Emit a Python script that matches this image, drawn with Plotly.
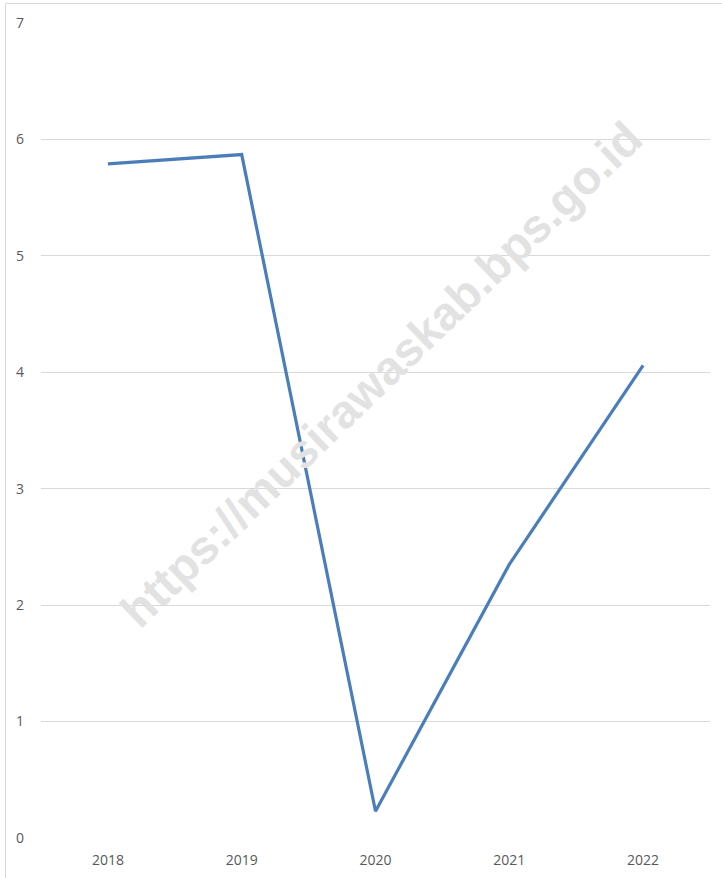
import plotly.graph_objects as go

years = ["2018", "2019", "2020", "2021", "2022"]
values = [5.79, 5.87, 0.23, 2.35, 4.06]
y_ticks = [0, 1, 2, 3, 4, 5, 6, 7]

W, H = 722, 878
ml, mr, mt, mb = 41, 12, 23, 40
pw, ph = W - ml - mr, H - mt - mb

fig = go.Figure()
fig.add_trace(go.Scatter(
    x=years, y=values, mode="lines",
    line=dict(color="#4a7ebb", width=3.2),
    showlegend=False, hoverinfo="skip",
))

fig.update_layout(
    width=W, height=H,
    margin=dict(l=ml, r=mr, t=mt, b=mb, autoexpand=False),
    paper_bgcolor="white", plot_bgcolor="white",
    font=dict(family="Open Sans, Liberation Sans, sans-serif", size=14, color="#595959"),
    xaxis=dict(type="category", range=[-0.5, 4.5], showgrid=False, showline=False,
               zeroline=False, ticks="", ticklabelstandoff=12, automargin=False),
    yaxis=dict(range=[0, 7], tickvals=y_ticks, showgrid=True, gridcolor="#d9d9d9",
               gridwidth=1, zeroline=False, showline=False, ticks="", ticklabelstandoff=16,
               automargin=False),
)

# outer chart border
fig.add_shape(type="rect", xref="paper", yref="paper",
              x0=(5.5 - ml) / pw, x1=(W + 5 - ml) / pw,
              y0=-(mb + 5) / ph,
              y1=(H - 3.5 - mb) / ph,
              line=dict(color="#d9d9d9", width=1), fillcolor="rgba(0,0,0,0)")

fig.add_annotation(
    text="https://musirawaskab.bps.go.id",
    xref="paper", yref="paper",
    x=(382 - ml) / pw, y=(H - mb - 374) / ph,
    showarrow=False, textangle=-44,
    font=dict(family="Liberation Sans, Arial, sans-serif", size=47, color="#e2e2e2", weight="bold"),
)

fig.write_html("out.html", config={"displayModeBar": False},
               post_script="document.body.style.margin='0';")
